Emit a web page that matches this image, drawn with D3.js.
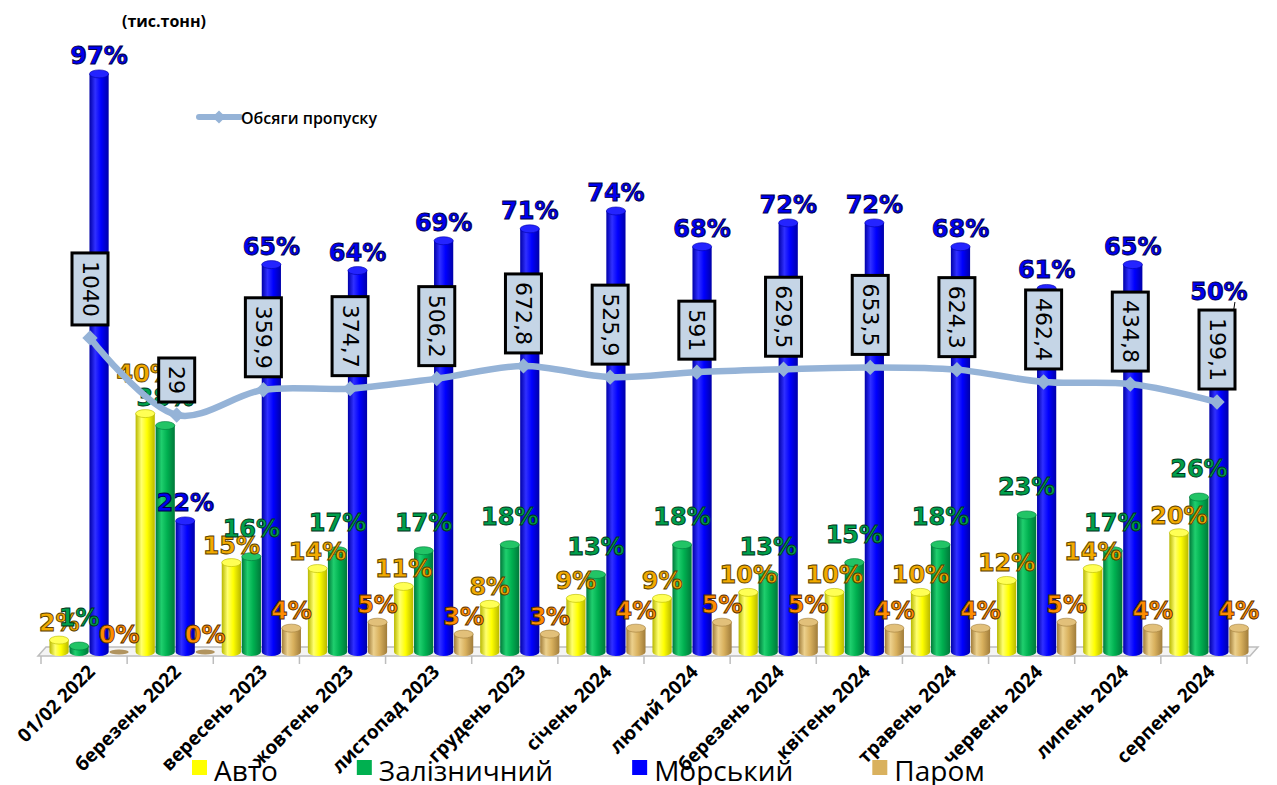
<!DOCTYPE html>
<html><head><meta charset="utf-8">
<script src="https://cdn.jsdelivr.net/npm/d3@7"></script>
<style>
html,body{margin:0;padding:0;background:#fff;}
svg{display:block;}
</style></head>
<body>
<svg id="chart" width="1277" height="785"></svg>
<script>
// ---------- DATA ----------
const categories = ["01/02 2022","березень 2022","вересень 2023","жовтень 2023","листопад 2023","грудень 2023","січень 2024","лютий 2024","березень 2024","квітень 2024","травень 2024","червень 2024","липень 2024","серпень 2024"];
const seriesNames = ["Авто","Залізничний","Морський","Паром"];
const autoShare  = [2,40,15,14,11,8,9,9,10,10,10,12,14,20];
const railShare  = [1,38,16,17,17,18,13,18,13,15,18,23,17,26];
const seaShare   = [97,22,65,64,69,71,74,68,72,72,68,61,65,50];
const ferryShare = [0,0,4,5,3,3,4,5,5,4,4,5,4,4];
const volumes    = [1040,29,359.9,374.7,506.2,672.8,525.9,591,629.5,653.5,624.3,462.4,434.8,199.1];
const lineName = "Обсяги пропуску";
const unitLabel = "(тис.тонн)";

// ---------- STYLE ----------
const shares = [autoShare, railShare, seaShare, ferryShare];
const colors = {
  "Авто":        {base:"#ffff00", dark:"#b8b800", light:"#ffff70", top:"#ffff55", lbl:"#f2aa00", lblStroke:"#5a3e00"},
  "Залізничний": {base:"#00b050", dark:"#00783a", light:"#1fcf6e", top:"#22c466", lbl:"#00a04c", lblStroke:"#00361a"},
  "Морський":    {base:"#0000ff", dark:"#0000a8", light:"#3030ff", top:"#2424ff", lbl:"#0000f0", lblStroke:"#000048"},
  "Паром":       {base:"#d9b15e", dark:"#a07c3a", light:"#ecd08c", top:"#e2c07a", lbl:"#ff8c00", lblStroke:"#5a3000"}
};
const labelGap = {"Авто":9,"Залізничний":20,"Морський":10,"Паром":9};
const lineColor = "#95b3d7";

const svg = d3.select("#chart");

const x = d3.scaleBand().domain(categories).range([46, 1252]).paddingInner(0).paddingOuter(0);
const xi = d3.scaleBand().domain(seriesNames).range([-40, 40]).paddingInner(0.04).paddingOuter(0.02);
const y = d3.scaleLinear().domain([0, 100]).range([652, 56]);
const yLine = d3.scaleLinear().domain([0, 1000]).range([417.2, 341.0]);
const xLine = d3.scalePoint().domain(categories).range([90, 1217]);

const defs = svg.append("defs");
seriesNames.forEach((s,k)=>{
  const c = colors[s];
  const g = defs.append("linearGradient").attr("id","grad"+k).attr("x1","0").attr("x2","1").attr("y1","0").attr("y2","0");
  g.append("stop").attr("offset","0").attr("stop-color",c.dark);
  g.append("stop").attr("offset","0.3").attr("stop-color",c.light);
  g.append("stop").attr("offset","0.6").attr("stop-color",c.base);
  g.append("stop").attr("offset","1").attr("stop-color",c.dark);
});

// ---------- FLOOR ----------
const floor = svg.append("g");
floor.append("path")
  .attr("d", `M${x.range()[0]},647 L${x.range()[1]+6},647 L${x.range()[1]-2},656 L${x.range()[0]-8},656 Z`)
  .attr("fill","#f4f4f4").attr("stroke","#bdbdbd").attr("stroke-width",1.5);
const tickXs = categories.map(c=>x(c)-5).concat([x.range()[1]-5]);
floor.selectAll("line.tick").data(tickXs).join("line")
  .attr("x1",d=>d).attr("x2",d=>d).attr("y1",656).attr("y2",664)
  .attr("stroke","#bdbdbd").attr("stroke-width",1.5);

// ---------- BARS ----------
const barData = [];
categories.forEach((c,i)=>{
  seriesNames.forEach((s,k)=>{
    barData.push({cat:c, i, s, k, v: shares[k][i]});
  });
});
const bw = xi.bandwidth();
const ry = 4;
const bars = svg.append("g");
barData.forEach(d=>{
  const bx = x(d.cat) + x.bandwidth()/2 + xi(d.s);
  const cx = bx + bw/2;
  const yt = y(d.v), yb = y(0);
  const c = colors[d.s];
  const g = bars.append("g");
  if (d.v > 0) {
    g.append("path")
      .attr("d", `M${bx},${yt} L${bx},${yb} A${bw/2},${ry} 0 0 0 ${bx+bw},${yb} L${bx+bw},${yt} Z`)
      .attr("fill", `url(#grad${d.k})`);
    g.append("ellipse").attr("cx",cx).attr("cy",yt).attr("rx",bw/2).attr("ry",ry)
      .attr("fill",c.top).attr("stroke",c.dark).attr("stroke-width",0.6);
  } else {
    g.append("ellipse").attr("cx",cx).attr("cy",yb).attr("rx",bw/2).attr("ry",2.5)
      .attr("fill",c.dark).attr("opacity",0.8);
  }
});

// ---------- VALUE BOX GEOMETRY ----------
const boxW = 36;
const measure = svg.append("text").attr("font-family","DejaVu Sans").attr("font-size",22);
const fmt = v => String(v).replace(".", ",");
const boxes = volumes.map((v,i)=>{
  measure.text(fmt(v));
  const len = measure.node().getComputedTextLength();
  const h = len + 16;
  const px = xLine(categories[i]), py = yLine(v);
  const bottom = py - 13;
  return {v, i, px, py, h, top: bottom - h, bottom, cx: px};
});
measure.remove();

// ---------- PERCENT LABELS ----------
const labels = svg.append("g").attr("font-family","DejaVu Sans").attr("font-weight","bold").attr("font-size",24);
const placed = {};
barData.forEach(d=>{
  const cx = x(d.cat) + x.bandwidth()/2 + xi(d.s) + bw/2;
  let base = y(d.v) - labelGap[d.s];
  let leader = false;
  if (d.s === "Морський") {
    const b = boxes[d.i];
    const overlaps = Math.abs(b.cx - cx) < 30 && base > b.top - 10 && base - 20 < b.bottom;
    if (overlaps) { base = b.top - 10; leader = base < y(d.v) - 25; }
  }
  // small-value auto labels are lifted so the rail label fits below them
  if (d.s === "Залізничний") {
    const a = placed[d.i];
    if (a && Math.abs(a.base - base) < 20 && base > a.base) { a.node.attr("y", base - 24); }
  }
  const c = colors[d.s];
  if (leader) {
    labels.append("line").attr("x1",cx+16).attr("y1",base+2).attr("x2",cx+8).attr("y2",y(d.v))
      .attr("stroke","#000").attr("stroke-width",1);
  }
  const node = labels.append("text").attr("x",cx).attr("y",base).attr("text-anchor","middle")
    .attr("fill",c.lbl).attr("stroke",c.lblStroke).attr("stroke-width",0.9)
    .text(d.v + "%");
  if (d.s === "Авто") placed[d.i] = {base, node};
});

// ---------- LINE ----------
const lineGen = d3.line().x((d,i)=>xLine(categories[i])).y(d=>yLine(d)).curve(d3.curveCatmullRom.alpha(0.5));
svg.append("path").datum(volumes).attr("d",lineGen)
  .attr("fill","none").attr("stroke",lineColor).attr("stroke-width",6.5).attr("stroke-linecap","round");
svg.append("g").selectAll("path").data(volumes).join("path")
  .attr("transform",(d,i)=>`translate(${xLine(categories[i])},${yLine(d)})`)
  .attr("d", d3.symbol().type(d3.symbolDiamond2).size(150))
  .attr("fill",lineColor);

// ---------- VALUE BOXES ----------
const boxG = svg.append("g");
boxes.forEach(b=>{
  boxG.append("rect").attr("x",b.cx-boxW/2).attr("y",b.top).attr("width",boxW).attr("height",b.h)
    .attr("fill","#c5d5e6").attr("stroke","#000").attr("stroke-width",3);
  boxG.append("text").attr("transform",`translate(${b.cx},${b.top+b.h/2}) rotate(90)`)
    .attr("text-anchor","middle").attr("dominant-baseline","central")
    .attr("font-family","DejaVu Sans").attr("font-size",22).attr("fill","#000")
    .text(fmt(b.v));
});

// ---------- AXIS LABELS ----------
const axisG = svg.append("g");
const xAxis = d3.axisBottom(x).tickSize(0).tickPadding(0);
axisG.call(xAxis);
axisG.select(".domain").remove();
axisG.selectAll(".tick").attr("transform", d=>`translate(${x(d)+x.bandwidth()/2+7},673)`);
axisG.selectAll(".tick text")
  .attr("transform","rotate(-45)").attr("text-anchor","end").attr("dy",0).attr("y",0).attr("x",0)
  .attr("font-family","Open Sans").attr("font-weight","bold").attr("font-size",19).attr("fill","#000");

// ---------- UNIT ----------
svg.append("text").attr("x",122).attr("y",27).attr("font-family","Open Sans").attr("font-weight","bold")
  .attr("font-size",16).attr("fill","#000").text(unitLabel);

// ---------- LINE LEGEND ----------
const ll = svg.append("g");
ll.append("line").attr("x1",199).attr("x2",240).attr("y1",117).attr("y2",117)
  .attr("stroke",lineColor).attr("stroke-width",6).attr("stroke-linecap","round");
ll.append("path").attr("transform","translate(219,117)").attr("d",d3.symbol().type(d3.symbolDiamond2).size(110)).attr("fill",lineColor);
ll.append("text").attr("x",241).attr("y",124).attr("font-family","Open Sans").attr("font-weight","600")
  .attr("font-size",16).attr("fill","#000").text(lineName);

// ---------- LEGEND ----------
const leg = svg.append("g");
let lx = 192;
seriesNames.forEach(s=>{
  leg.append("rect").attr("x",lx).attr("y",760).attr("width",15).attr("height",15).attr("fill",colors[s].base);
  const t = leg.append("text").attr("x",lx+22).attr("y",781).attr("font-family","Open Sans")
    .attr("font-size",28).attr("fill","#000").text(s);
  lx = lx + 22 + t.node().getComputedTextLength() + 79;
});
</script>
</body></html>
